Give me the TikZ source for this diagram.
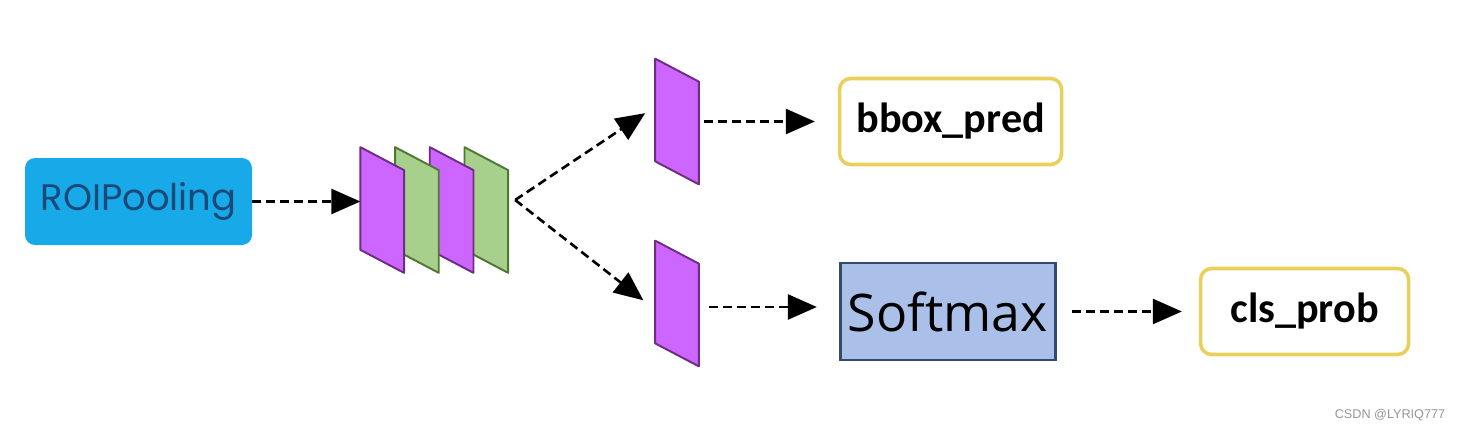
\documentclass[tikz,border=0pt]{standalone}
\usepackage{fontspec}
\usepackage{tikz}
\usetikzlibrary{arrows.meta, positioning, calc}
\newfontfamily\poppinsfont{Poppins}
\newfontfamily\opensansfont{Open Sans}
\newfontfamily\carlitofont{Carlito}
\newfontfamily\libsansfont{Liberation Sans}
\usepackage{xcolor}
\definecolor{roiblue}{RGB}{24,170,232}
\definecolor{roitext}{RGB}{26,72,120}
\definecolor{sheetpurple}{RGB}{204,102,255}
\definecolor{sheetpurpleline}{RGB}{110,45,130}
\definecolor{sheetgreen}{RGB}{168,208,141}
\definecolor{sheetgreenline}{RGB}{80,120,50}
\definecolor{outyellow}{RGB}{232,208,90}
\definecolor{softblue}{RGB}{170,192,232}
\definecolor{softline}{RGB}{50,75,115}
\definecolor{marktext}{RGB}{150,150,150}
\tikzset{
  basebox/.style={
    rectangle, align=center, inner sep=0pt
  },
  roibox/.style={basebox, rounded corners=0.2cm, fill=roiblue, text=roitext,
    minimum width=4.54cm, minimum height=1.74cm, font=\poppinsfont\fontsize{21}{25}\selectfont},
  outbox/.style={basebox, rounded corners=0.22cm, draw=outyellow, line width=2pt, fill=white,
    font=\carlitofont\bfseries\fontsize{24}{28}\selectfont, minimum height=1.72cm},
  softbox/.style={basebox, draw=softline, fill=softblue, line width=1.7pt,
    minimum width=4.3cm, minimum height=1.94cm, font=\opensansfont\fontsize{29.5}{35}\selectfont},
  sheet/.style={basebox, minimum width=0.86cm, minimum height=2.5cm},
  purplesheet/.style={fill=sheetpurple, draw=sheetpurpleline, line width=1.1pt, line join=round},
  greensheet/.style={fill=sheetgreen, draw=sheetgreenline, line width=1.1pt, line join=round},
  dasharrow/.style={-{Triangle[length=0.58cm, width=0.5cm]}, line width=1.5pt,
    dash pattern=on 0.18cm off 0.1cm, color=black}
}
\newcommand{\drawsheet}[2]{%
  \draw[#2] (#1.north west) -- ([yshift=-0.46cm]#1.north east)
    -- (#1.south east) -- ([yshift=0.46cm]#1.south west) -- cycle;}

\begin{document}
\begin{tikzpicture}[node distance=2.9cm]
  \useasboundingbox[fill=white] (0,0) rectangle (29.18,-8.66);

  \node[roibox] (roi) at (2.77,-4.03) {ROIPooling};

  % feature stack
  \node[sheet, right=2.16cm of roi, yshift=-0.17cm] (p1) {};
  \node[sheet, right=-0.18cm of p1] (g1) {};
  \node[sheet, right=-0.18cm of g1] (p2) {};
  \node[sheet, right=-0.18cm of p2] (g2) {};
  \drawsheet{g2}{greensheet}
  \drawsheet{p2}{purplesheet}
  \drawsheet{g1}{greensheet}
  \drawsheet{p1}{purplesheet}
  \coordinate (fork) at ([xshift=0.14cm, yshift=0.2cm]g2.east);

  % two heads
  \node[sheet, right=2.94cm of g2, yshift=1.77cm] (up) {};
  \node[sheet, right=2.94cm of g2, yshift=-1.87cm] (low) {};
  \drawsheet{up}{purplesheet}
  \drawsheet{low}{purplesheet}

  \node[outbox, minimum width=4.44cm, right=2.78cm of up] (bbox) {bbox\_pred};
  \node[softbox, right=2.8cm of low, yshift=-0.16cm] (soft) {Softmax};
  \node[outbox, minimum width=4.16cm, right=2.84cm of soft] (cls) {cls\_prob};

  \node[text=marktext, font=\libsansfont\fontsize{7.2}{9}\selectfont] (mark) at (27.8,-8.3) {CSDN @LYRIQ777};

  \draw[dasharrow] (roi.east) -- (roi.east -| p1.west);
  \draw[dasharrow, shorten >=0.24cm] (fork) -- ([yshift=0.3cm]up.west);
  \draw[dasharrow, shorten >=0.3cm] (fork) -- ([yshift=-0.12cm]low.west);
  \draw[dasharrow, shorten <=0.1cm, shorten >=0.46cm] (up.east) -- (up.east -| bbox.west);
  \draw[dasharrow, shorten <=0.2cm, shorten >=0.44cm] ([yshift=-0.07cm]low.east) -- ([yshift=-0.07cm]low.east -| soft.west);
  \draw[dasharrow, shorten <=0.3cm, shorten >=0.34cm] (soft.east) -- (cls.west);
\end{tikzpicture}
\end{document}
